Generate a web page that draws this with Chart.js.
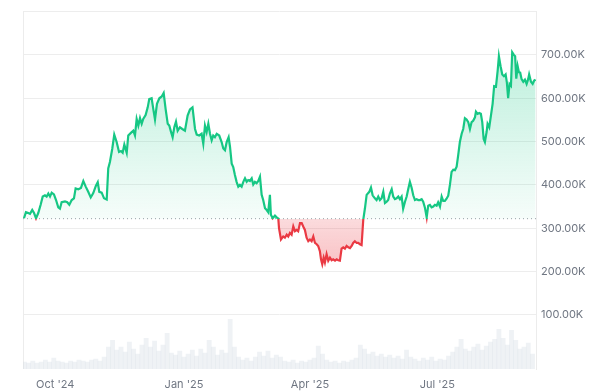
<!DOCTYPE html>
<html>
<head>
<meta charset="utf-8">
<script src="https://cdn.jsdelivr.net/npm/chart.js@4.4.1/dist/chart.umd.min.js"></script>
<style>
html,body{margin:0;padding:0;background:#fff;}
#wrap{width:600px;height:392px;position:relative;}
</style>
</head>
<body>
<div id="wrap"><canvas id="c" width="600" height="392"></canvas></div>
<script>
// Days since 2024-09-08 for each price reading
const days = [0.7,2.1,3.8,5.0,6.6,7.9,9.3,10.9,12.6,14.1,15.7,16.9,18.1,19.3,20.5,22.1,23.6,25.2,26.4,27.6,30.0,31.6,33.1,34.8,36.4,37.6,39.5,41.4,43.1,44.8,46.6,48.4,50.2,52.1,53.4,54.5,56.2,57.9,59.8,60.9,62.1,63.8,65.2,66.9,68.6,70.0,71.2,72.4,74.1,75.2,77.1,78.8,80.0,81.2,82.4,83.6,84.8,85.9,87.6,89.1,90.2,91.9,93.1,94.3,95.7,97.4,99.1,100.5,101.9,103.4,104.5,105.7,106.9,108.1,109.3,110.5,112.1,113.8,115.7,117.6,119.3,121.1,122.9,124.1,125.9,127.6,128.8,130.0,131.2,132.4,133.6,134.8,135.9,137.1,138.4,140.2,141.9,143.1,144.3,145.5,146.9,147.9,149.1,150.2,151.4,152.6,153.8,155.0,156.2,157.4,158.6,159.8,160.9,162.1,163.4,164.5,165.7,166.9,168.1,169.3,170.5,171.6,172.9,174.1,175.2,176.4,177.1,178.4,180.0,181.2,182.4,182.9,184.3,185.9,187.1,188.4,189.5,190.7,191.9,193.1,194.3,195.5,196.6,197.9,199.1,200.2,201.4,202.6,203.8,205.0,206.2,207.4,208.6,209.8,210.9,212.1,212.9,213.8,214.8,215.7,216.9,218.1,219.3,220.5,221.6,222.9,224.1,225.2,226.4,227.6,228.8,230.0,231.2,232.4,233.6,234.8,235.9,237.1,238.4,239.5,240.7,241.9,243.1,244.3,245.5,247.4,248.6,249.8,251.4,252.6,253.8,255.0,256.2,257.4,258.6,259.8,260.9,262.1,263.4,264.5,265.7,266.9,268.1,269.3,270.5,271.6,272.9,274.1,275.2,276.4,277.6,278.8,280.0,281.2,282.4,283.6,284.8,285.9,287.1,288.4,289.5,290.7,291.9,293.1,294.3,295.5,296.6,297.9,299.1,300.2,301.4,302.6,303.8,305.0,306.2,307.4,308.6,309.8,310.9,312.1,313.4,314.5,315.7,316.9,318.1,319.3,320.5,321.6,322.9,323.6,324.8,325.9,327.1,328.1,329.1,330.0,331.2,331.9,333.1,334.3,335.5,336.6,337.9,339.1,340.0,341.2,342.4,343.6,344.8,345.7,346.6,347.6,348.6,349.5,350.7,351.6,352.4,353.4,354.3,355.2,356.2,357.4,358.6,359.8,360.9,361.6,362.9,364.1,365.2,366.2];
// Price in thousands
const prices = [323,337,335,333,342,335,323,335,354,373,376,373,380,373,382,378,365,348,345,360,362,360,354,365,369,392,390,393,409,396,384,371,381,398,406,384,382,369,366,438,453,484,516,499,476,478,474,493,474,514,520,525,514,552,537,554,541,552,561,579,598,600,575,551,587,600,604,612,575,541,537,523,510,533,546,525,533,529,525,560,574,579,529,516,514,518,495,537,522,541,518,503,514,510,518,514,499,484,480,499,510,488,449,441,423,407,396,400,396,407,415,407,411,409,415,401,407,404,409,419,377,365,346,342,337,377,331,323,329,325,322,300,274,281,278,285,281,289,285,304,293,296,293,312,312,304,296,278,270,274,270,281,266,263,259,247,228,217,232,221,240,225,232,226,228,225,228,226,225,253,256,253,259,256,254,259,266,270,266,266,263,261,320,346,377,384,394,376,369,365,373,365,369,384,358,361,365,380,390,373,367,369,373,367,373,345,361,373,390,407,394,376,365,367,365,365,367,361,348,325,352,354,348,350,354,352,360,350,373,363,363,368,375,400,430,435,434,442,468,499,518,529,554,551,545,529,545,548,556,569,564,566,564,545,506,499,522,541,533,560,587,628,627,663,697,674,655,651,655,636,600,633,629,706,700,697,645,674,660,659,644,638,643,633,644,655,638,633,641,643];
const baseline = 322;
// Volume (relative units) every 3 days starting day 1
const volDays = [];
for (let d = 1; d <= 364; d += 3) volDays.push(d);
const volumes = [7,6,8,6,7,9,7,11,8,7,6,8,7,9,8,7,9,10,8,12,22,29,19,22,17,27,20,15,24,31,22,28,18,24,36,16,14,18,12,15,19,13,20,16,29,22,14,19,16,50,22,12,9,11,8,12,17,13,18,11,14,12,8,7,9,6,8,7,9,11,23,15,9,7,8,6,8,7,9,11,24,20,15,17,13,15,12,14,11,13,10,19,12,10,8,11,9,12,8,10,9,13,17,22,30,20,18,22,25,19,23,27,30,40,31,24,39,29,20,22,26,15];
const tickDays = [23, 115, 205, 296];
const tickLabels = ["Oct '24", "Jan '25", "Apr '25", "Jul '25"];
const yTicks = [100, 200, 300, 400, 500, 600, 700];

const GREEN = '#16c784', RED = '#ea3943';

function splitGradient(chart, top, bottomAbove, topBelow, bottom) {
  const a = chart.chartArea;
  if (!a) return null;
  const bp = chart.scales.y.getPixelForValue(baseline);
  const t = Math.min(1, Math.max(0, (bp - a.top) / (a.bottom - a.top)));
  const g = chart.ctx.createLinearGradient(0, a.top, 0, a.bottom);
  g.addColorStop(0, top);
  g.addColorStop(t, bottomAbove);
  g.addColorStop(t, topBelow);
  g.addColorStop(1, bottom);
  return g;
}

const borders = {
  id: 'borders',
  beforeDatasetsDraw(chart) {
    const {ctx, chartArea: a} = chart;
    ctx.save();
    ctx.strokeStyle = '#ececec';
    ctx.lineWidth = 1;
    ctx.beginPath();
    ctx.moveTo(Math.round(a.left) + 0.5, a.top);
    ctx.lineTo(Math.round(a.left) + 0.5, a.bottom);
    ctx.stroke();
    ctx.restore();
  }
};

new Chart(document.getElementById('c'), {
  data: {
    datasets: [
      {
        type: 'line',
        data: days.map((d, i) => ({x: d, y: prices[i]})),
        yAxisID: 'y',
        borderWidth: 2.2,
        pointRadius: 0,
        tension: 0,
        order: 1,
        borderColor: (c) => splitGradient(c.chart, GREEN, GREEN, RED, RED) || GREEN,
        backgroundColor: (c) => splitGradient(c.chart, 'rgba(22,199,132,0.34)', 'rgba(22,199,132,0.04)', 'rgba(234,57,67,0.18)', 'rgba(234,57,67,0.6)') || 'transparent',
        fill: {value: baseline}
      },
      {
        type: 'line',
        data: [{x: 0, y: baseline}, {x: 366.5, y: baseline}],
        yAxisID: 'y',
        borderColor: '#9aa0a6',
        borderWidth: 1,
        borderDash: [1, 3],
        pointRadius: 0,
        fill: false,
        order: 2
      },
      {
        type: 'bar',
        data: volDays.map((d, i) => ({x: d, y: volumes[i]})),
        yAxisID: 'yv',
        backgroundColor: 'rgba(214,220,230,0.38)',
        barPercentage: 1,
        categoryPercentage: 1,
        grouped: false,
        order: 3
      }
    ]
  },
  options: {
    responsive: false,
    animation: false,
    devicePixelRatio: 1,
    layout: {padding: {top: 9, left: 23, right: 0, bottom: 0}},
    plugins: {legend: {display: false}, tooltip: {enabled: false}},
    scales: {
      x: {
        type: 'linear',
        min: 0,
        max: 366.5,
        offset: false,
        grid: {display: false, drawTicks: false},
        border: {display: false},
        afterBuildTicks: (s) => { s.ticks = tickDays.map(v => ({value: v})); },
        afterFit: (s) => { s.height = 23; },
        ticks: {
          autoSkip: false,
          maxRotation: 0,
          padding: 9,
          color: '#6f7682',
          font: {family: 'Inter', size: 11},
          callback: (v) => { const i = tickDays.indexOf(v); return i >= 0 ? tickLabels[i] : ''; }
        }
      },
      y: {
        position: 'right',
        min: -25,
        max: 800,
        afterBuildTicks: (s) => { s.ticks = [100,200,300,400,500,600,700,800].map(v => ({value: v})); },
        afterFit: (s) => { s.width = 64; },
        grid: {color: '#ededed', drawTicks: false, lineWidth: 1},
        border: {display: true, color: '#ececec'},
        ticks: {
          padding: 5,
          color: '#6f7682',
          font: {family: 'Inter', size: 11},
          callback: (v) => yTicks.includes(v) ? v.toFixed(2) + 'K' : ''
        }
      },
      yv: {
        display: false,
        min: 0,
        max: 360
      }
    }
  },
  plugins: [borders]
});
</script>
</body>
</html>
